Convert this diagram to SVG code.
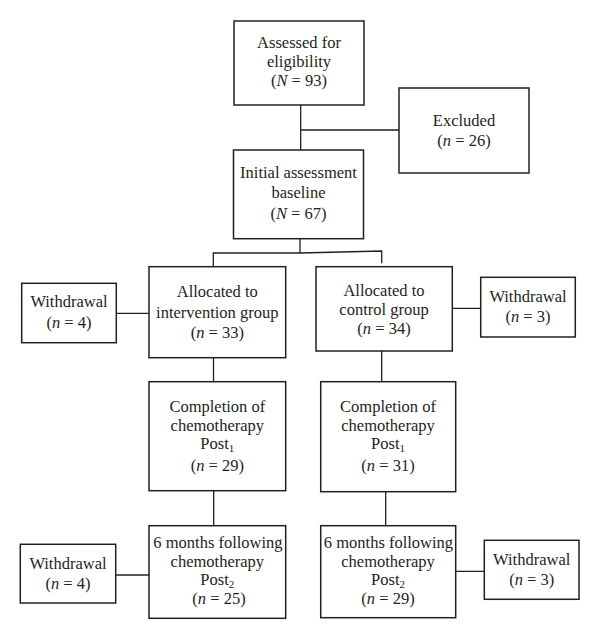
<svg xmlns="http://www.w3.org/2000/svg" width="600" height="639" viewBox="0 0 600 639">
<style>
.box{fill:#fff;stroke:#231f20;stroke-width:1.5}
.ln{fill:none;stroke:#231f20;stroke-width:1.3}
text{font-family:"Liberation Serif","Times New Roman",serif;font-size:16.5px;fill:#231f20;text-anchor:middle}
.i{font-style:italic}
.sub{font-size:11px}
</style>
<rect width="600" height="639" fill="#fff"/>
<g id="connectors">
<path class="ln" d="M300.7 105V150M300.7 130H399"/>
<path class="ln" d="M300 238.7V253M213.3 266.7V253H300L381.7 251V263.3"/>
<path class="ln" d="M116.3 313.3H149M452.3 308.3H480.7"/>
<path class="ln" d="M213.5 357.7V381.7M381.7 351V381.7"/>
<path class="ln" d="M213.7 490.7V525.7M385.7 491.7V525.7"/>
<path class="ln" d="M115.7 575H149M455.7 571.3H484.3"/>
</g>
<g id="assessed">
<rect class="box" x="234" y="21" width="130" height="84"/>
<text x="299" y="47.5">Assessed for</text>
<text x="299" y="66.5">eligibility</text>
<text x="299" y="86">(<tspan class="i">N</tspan> = 93)</text>
</g>
<g id="excluded">
<rect class="box" x="399" y="88" width="130" height="85"/>
<text x="464" y="125.5">Excluded</text>
<text x="464" y="146">(<tspan class="i">n</tspan> = 26)</text>
</g>
<g id="initial">
<rect class="box" x="233.5" y="150" width="130" height="88.7"/>
<text x="298.5" y="178">Initial assessment</text>
<text x="298.5" y="198">baseline</text>
<text x="298.5" y="219">(<tspan class="i">N</tspan> = 67)</text>
</g>
<g id="withdrawal-1">
<rect class="box" x="21.7" y="283.3" width="94.6" height="59.4"/>
<text x="69" y="306.7">Withdrawal</text>
<text x="69" y="328">(<tspan class="i">n</tspan> = 4)</text>
</g>
<g id="intervention">
<rect class="box" x="149" y="266.7" width="136.7" height="91"/>
<text x="217.3" y="297">Allocated to</text>
<text x="217.3" y="318">intervention group</text>
<text x="217.3" y="338">(<tspan class="i">n</tspan> = 33)</text>
</g>
<g id="control">
<rect class="box" x="316" y="266.7" width="136.3" height="84.3"/>
<text x="384" y="295.5">Allocated to</text>
<text x="384" y="315">control group</text>
<text x="384" y="334">(<tspan class="i">n</tspan> = 34)</text>
</g>
<g id="withdrawal-2">
<rect class="box" x="480.7" y="277.3" width="94.6" height="59.7"/>
<text x="528" y="301.5">Withdrawal</text>
<text x="528" y="322">(<tspan class="i">n</tspan> = 3)</text>
</g>
<g id="completion-1">
<rect class="box" x="149" y="381.7" width="136.7" height="109"/>
<text x="217.3" y="412">Completion of</text>
<text x="217.3" y="430.5">chemotherapy</text>
<text x="217.3" y="449">Post<tspan class="sub" dy="3">1</tspan></text>
<text x="217.3" y="470.5">(<tspan class="i">n</tspan> = 29)</text>
</g>
<g id="completion-2">
<rect class="box" x="320.7" y="381.7" width="135" height="110"/>
<text x="388" y="412">Completion of</text>
<text x="388" y="430.5">chemotherapy</text>
<text x="388" y="449">Post<tspan class="sub" dy="3">1</tspan></text>
<text x="388" y="470.5">(<tspan class="i">n</tspan> = 31)</text>
</g>
<g id="followup-1">
<rect class="box" x="149" y="525.7" width="136.7" height="92.6"/>
<text x="218" y="548.3">6 months following</text>
<text x="217.3" y="566.5">chemotherapy</text>
<text x="217.3" y="585">Post<tspan class="sub" dy="3">2</tspan></text>
<text x="219" y="604">(<tspan class="i">n</tspan> = 25)</text>
</g>
<g id="followup-2">
<rect class="box" x="320.7" y="525.7" width="135" height="92"/>
<text x="388.5" y="548.3">6 months following</text>
<text x="388" y="566.5">chemotherapy</text>
<text x="388" y="585">Post<tspan class="sub" dy="3">2</tspan></text>
<text x="388" y="604">(<tspan class="i">n</tspan> = 29)</text>
</g>
<g id="withdrawal-3">
<rect class="box" x="20.3" y="544.3" width="95.4" height="58.7"/>
<text x="68" y="569">Withdrawal</text>
<text x="68" y="589">(<tspan class="i">n</tspan> = 4)</text>
</g>
<g id="withdrawal-4">
<rect class="box" x="484.3" y="540.3" width="94.7" height="59"/>
<text x="531.7" y="565">Withdrawal</text>
<text x="531.7" y="585">(<tspan class="i">n</tspan> = 3)</text>
</g>
</svg>
